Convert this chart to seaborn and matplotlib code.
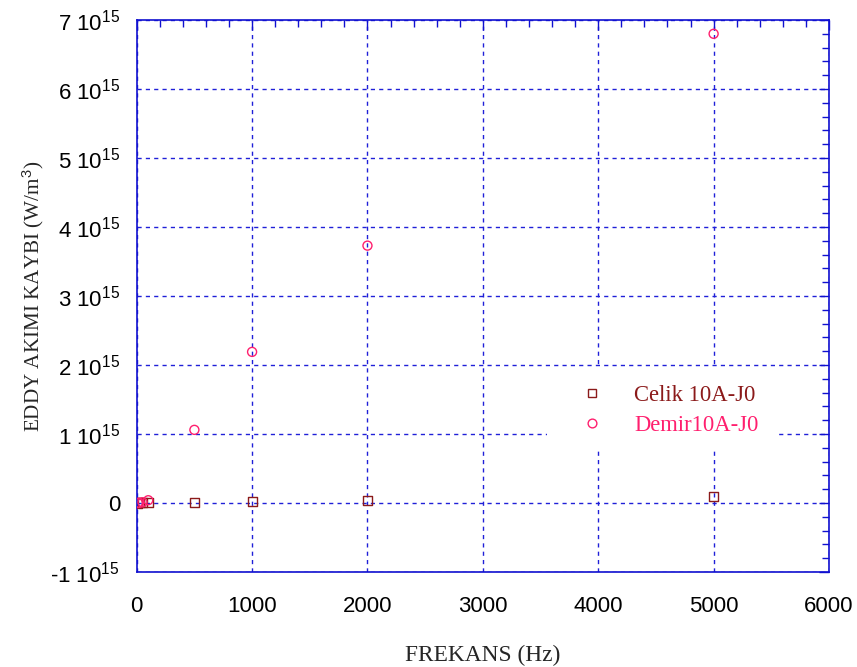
import matplotlib
matplotlib.use("Agg")
import matplotlib.pyplot as plt
from matplotlib.lines import Line2D
from matplotlib.patches import Rectangle
from matplotlib.ticker import MultipleLocator, FixedLocator, FixedFormatter
import numpy as np
import pandas as pd
import seaborn as sns

# Frequencies (Hz) and eddy current losses (W/m^3)
frekans = [10, 20, 50, 100, 500, 1000, 2000, 5000]
celik_kayip = [0.0, 0.0002e15, 0.0005e15, 0.002e15, 0.01e15, 0.02e15, 0.04e15, 0.09e15]
demir_kayip = [0.0, 0.002e15, 0.01e15, 0.04e15, 1.06e15, 2.19e15, 3.73e15, 6.80e15]

seri_adlari = ["Celik 10A-J0", "Demir10A-J0"]
seri_renkleri = ["#8b1a1a", "#ff1f6e"]
seri_isaretleri = ["s", "o"]

y_tikler = [-1e15, 0, 1e15, 2e15, 3e15, 4e15, 5e15, 6e15, 7e15]
y_etiketler = ["-1 10$^{15}$", "0", "1 10$^{15}$", "2 10$^{15}$", "3 10$^{15}$",
               "4 10$^{15}$", "5 10$^{15}$", "6 10$^{15}$", "7 10$^{15}$"]
x_tikler = [0, 1000, 2000, 3000, 4000, 5000, 6000]

sns.set_style("white")
plt.rcParams["font.family"] = ["Liberation Sans", "DejaVu Sans"]
plt.rcParams["mathtext.fontset"] = "custom"
plt.rcParams["mathtext.rm"] = "Liberation Sans"
plt.rcParams["mathtext.default"] = "rm"

df = pd.DataFrame({
    "f": frekans * 2,
    "p": celik_kayip + demir_kayip,
    "seri": [seri_adlari[0]] * len(frekans) + [seri_adlari[1]] * len(frekans),
})

fig = plt.figure(figsize=(8.57, 6.67), dpi=100)
ax = fig.add_axes([136.7 / 857, 1 - 572 / 667, (829 - 136.7) / 857, (572 - 20) / 667])

eksen_mavi = "#1010d0"
izgara_mavi = "#2020d8"

for ad, renk, isaret in zip(seri_adlari, seri_renkleri, seri_isaretleri):
    alt = df[df["seri"] == ad]
    sns.scatterplot(data=alt, x="f", y="p", ax=ax, marker=isaret, s=42,
                    facecolor="none", edgecolor=renk, linewidth=1.0,
                    zorder=5, legend=False)

ax.set_xlim(0, 6000)
ax.set_ylim(-1e15, 7e15)

ax.xaxis.set_major_locator(FixedLocator(x_tikler))
ax.xaxis.set_minor_locator(MultipleLocator(200))
ax.yaxis.set_major_locator(FixedLocator(y_tikler))
ax.yaxis.set_major_formatter(FixedFormatter(y_etiketler))
ax.yaxis.set_minor_locator(MultipleLocator(0.2e15))

ax.grid(True, which="major", color=izgara_mavi, linestyle=(0, (3, 3)), linewidth=1.0)
ax.set_axisbelow(True)

for sp in ax.spines.values():
    sp.set_color(eksen_mavi)
    sp.set_linewidth(1.2)

ax.tick_params(axis="both", which="both", direction="in", top=True, right=True,
               color=eksen_mavi, labelsize=16, labelcolor="black")
ax.tick_params(axis="both", which="major", length=7, width=1.0)
ax.tick_params(axis="both", which="minor", length=5, width=1.0)
ax.tick_params(axis="x", which="major", pad=17)
ax.tick_params(axis="y", which="major", pad=12)

ax.set_xlabel("FREKANS (Hz)", family=["Liberation Serif", "DejaVu Serif"],
              fontsize=16.8, labelpad=20)
ax.set_ylabel("EDDY AKIMI KAYBI (W/m$^3$)", family=["Liberation Serif", "DejaVu Serif"],
              fontsize=15.2, labelpad=3)
ax.yaxis.label.set_math_fontfamily("custom")

# white panel behind the legend
x0 = (547 - 136.7) / 692.3
x1 = (775 - 136.7) / 692.3
y0 = (572 - 448) / 552
y1 = (572 - 368) / 552
ax.add_patch(Rectangle((x0, y0), x1 - x0, y1 - y0, transform=ax.transAxes,
                       facecolor="white", edgecolor="none", zorder=3))

tutamaclar = [Line2D([], [], linestyle="none", marker=m, markersize=6.3,
                     markerfacecolor="none", markeredgecolor=c, markeredgewidth=1.0)
              for m, c in zip(seri_isaretleri, seri_renkleri)]
leg = ax.legend(tutamaclar, seri_adlari, loc="center left",
                bbox_to_anchor=((581 - 136.7) / 692.3, (572 - 410.5) / 552),
                frameon=False, handlelength=1.0, handletextpad=1.35,
                labelspacing=0.38, borderpad=0, borderaxespad=0,
                prop={"family": ["Liberation Serif", "DejaVu Serif"], "size": 16.3},
                labelcolor=seri_renkleri)
leg.set_zorder(6)

fig.savefig("out.png", dpi=100)
